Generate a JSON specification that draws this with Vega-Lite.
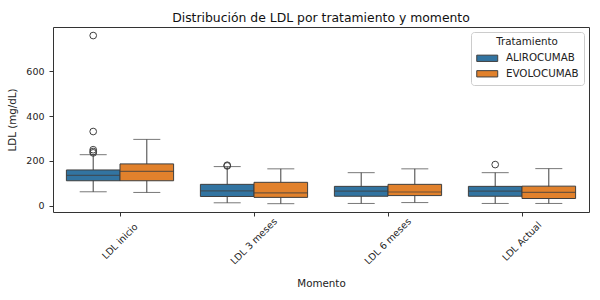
{
  "$schema": "https://vega.github.io/schema/vega-lite/v6.json",
  "autosize": {"type": "none"},
  "width": 536,
  "height": 185,
  "padding": {"left": 53, "top": 27, "right": 11, "bottom": 88},
  "background": "white",
  "title": {"text": "Distribución de LDL por tratamiento y momento", "fontSize": 12.4, "fontWeight": "normal", "font": "DejaVu Sans", "color": "#111", "offset": 3},
  "config": {
    "font": "DejaVu Sans",
    "view": {"stroke": "#333", "strokeWidth": 1},
    "axis": {"labelFont": "DejaVu Sans", "titleFont": "DejaVu Sans", "labelFontSize": 9.5, "titleFontSize": 10.3, "titleFontWeight": "normal", "labelColor": "#222", "titleColor": "#222", "tickColor": "#333", "tickSize": 4, "domain": false, "grid": false}
  },
  "datasets": {
    "boxes": [
      {"Momento": "LDL inicio", "Tratamiento": "ALIROCUMAB", "lower": 63, "q1": 112, "median": 136, "q3": 160, "upper": 228},
      {"Momento": "LDL inicio", "Tratamiento": "EVOLOCUMAB", "lower": 60, "q1": 112, "median": 154, "q3": 187, "upper": 296},
      {"Momento": "LDL 3 meses", "Tratamiento": "ALIROCUMAB", "lower": 14, "q1": 42, "median": 67, "q3": 96, "upper": 175},
      {"Momento": "LDL 3 meses", "Tratamiento": "EVOLOCUMAB", "lower": 10, "q1": 38, "median": 58, "q3": 105, "upper": 165},
      {"Momento": "LDL 6 meses", "Tratamiento": "ALIROCUMAB", "lower": 11, "q1": 43, "median": 66, "q3": 87, "upper": 148},
      {"Momento": "LDL 6 meses", "Tratamiento": "EVOLOCUMAB", "lower": 15, "q1": 46, "median": 62, "q3": 96, "upper": 165},
      {"Momento": "LDL Actual", "Tratamiento": "ALIROCUMAB", "lower": 11, "q1": 43, "median": 66, "q3": 87, "upper": 148},
      {"Momento": "LDL Actual", "Tratamiento": "EVOLOCUMAB", "lower": 11, "q1": 33, "median": 60, "q3": 88, "upper": 166}
    ],
    "outliers": [
      {"Momento": "LDL inicio", "Tratamiento": "ALIROCUMAB", "LDL": 758},
      {"Momento": "LDL inicio", "Tratamiento": "ALIROCUMAB", "LDL": 331},
      {"Momento": "LDL inicio", "Tratamiento": "ALIROCUMAB", "LDL": 250},
      {"Momento": "LDL inicio", "Tratamiento": "ALIROCUMAB", "LDL": 242},
      {"Momento": "LDL inicio", "Tratamiento": "ALIROCUMAB", "LDL": 236},
      {"Momento": "LDL 3 meses", "Tratamiento": "ALIROCUMAB", "LDL": 181},
      {"Momento": "LDL 3 meses", "Tratamiento": "ALIROCUMAB", "LDL": 178},
      {"Momento": "LDL Actual", "Tratamiento": "ALIROCUMAB", "LDL": 184}
    ]
  },
  "encoding": {
    "x": {"field": "Momento", "type": "nominal", "sort": ["LDL inicio", "LDL 3 meses", "LDL 6 meses", "LDL Actual"],
      "scale": {"paddingInner": 0.2, "paddingOuter": 0.1},
      "axis": {"title": "Momento", "labelAngle": -45, "labelAlign": "center", "labelBaseline": "middle", "labelPadding": 25, "titlePadding": 13}},
    "xOffset": {"field": "Tratamiento", "type": "nominal", "sort": ["ALIROCUMAB", "EVOLOCUMAB"], "scale": {"paddingInner": 0, "paddingOuter": 0}}
  },
  "layer": [
    {
      "data": {"name": "boxes"},
      "mark": {"type": "rule", "color": "#3f3f3f", "strokeWidth": 1},
      "encoding": {
        "y": {"field": "lower", "type": "quantitative", "scale": {"domain": [-27, 796], "nice": false, "zero": false}, "axis": {"title": "LDL (mg/dL)", "values": [0, 200, 400, 600], "titlePadding": 8, "labelPadding": 5}},
        "y2": {"field": "upper"}
      }
    },
    {
      "data": {"name": "boxes"},
      "mark": {"type": "tick", "color": "#3f3f3f", "thickness": 1, "size": 27, "orient": "horizontal"},
      "encoding": {"y": {"field": "lower", "type": "quantitative"}}
    },
    {
      "data": {"name": "boxes"},
      "mark": {"type": "tick", "color": "#3f3f3f", "thickness": 1, "size": 27, "orient": "horizontal"},
      "encoding": {"y": {"field": "upper", "type": "quantitative"}}
    },
    {
      "data": {"name": "boxes"},
      "mark": {"type": "bar", "stroke": "#3f3f3f", "strokeWidth": 1, "opacity": 1},
      "encoding": {
        "y": {"field": "q1", "type": "quantitative"},
        "y2": {"field": "q3"},
        "color": {"field": "Tratamiento", "type": "nominal", "sort": ["ALIROCUMAB", "EVOLOCUMAB"],
          "scale": {"range": ["#3274a1", "#e1812c"]},
          "legend": {"title": "Tratamiento", "orient": "top-right", "offset": 5, "titleAnchor": "middle", "titleFontSize": 10.3, "titleFontWeight": "normal", "labelFontSize": 10.3, "titleColor": "#222", "labelColor": "#222",
            "symbolType": "M-1,-0.6L3,-0.6L3,0.6L-1,0.6Z", "symbolSize": 110, "symbolStrokeColor": "#3f3f3f", "symbolStrokeWidth": 1, "symbolOpacity": 1,
            "fillColor": "white", "strokeColor": "#cccccc", "cornerRadius": 3, "padding": 5, "rowPadding": 3.5, "titlePadding": 5, "labelOffset": 18}}
      }
    },
    {
      "data": {"name": "boxes"},
      "mark": {"type": "tick", "color": "#3f3f3f", "thickness": 1.2, "size": 53.6, "orient": "horizontal"},
      "encoding": {"y": {"field": "median", "type": "quantitative"}}
    },
    {
      "data": {"name": "outliers"},
      "mark": {"type": "point", "shape": "circle", "filled": false, "stroke": "#3f3f3f", "strokeWidth": 1, "size": 45, "opacity": 1},
      "encoding": {"y": {"field": "LDL", "type": "quantitative"}}
    }
  ]
}
